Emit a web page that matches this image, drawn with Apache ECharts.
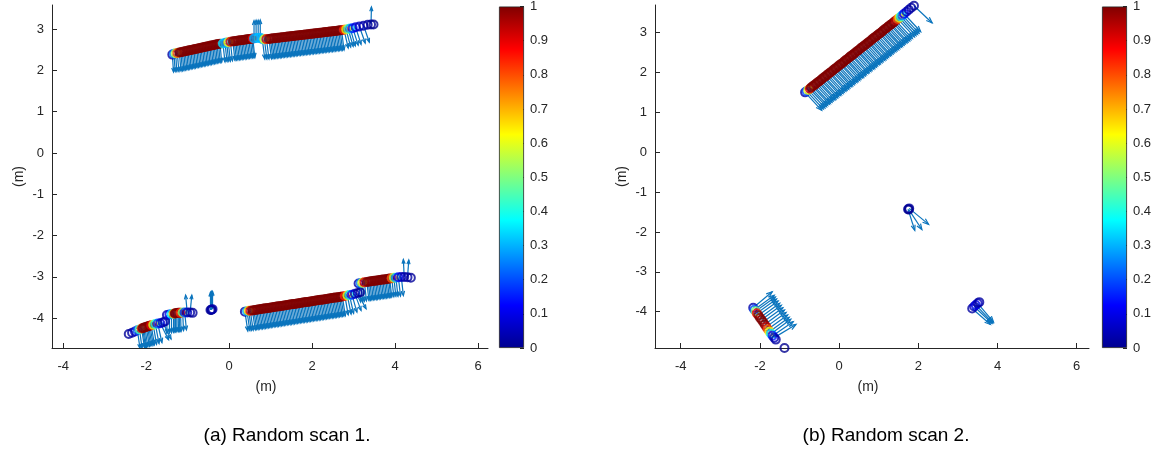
<!DOCTYPE html>
<html>
<head>
<meta charset="utf-8">
<script src="https://cdn.jsdelivr.net/npm/echarts@6/dist/echarts.min.js"></script>
<style>
  html, body { margin: 0; padding: 0; background: #ffffff; }
  #chart { width: 1158px; height: 450px; }
</style>
</head>
<body>
<div id="chart"></div>
<script>
// Each row: [x (m), y (m), weight 0..1, normal dx (m), normal dy (m)]
// A zero normal means the point carries no arrow.

// ---- Random scan 1 ----
const scanA_upperWall = [
  [-1.37, 2.38, 0.02, 0.03, -0.42], [-1.33, 2.40, 0.25, 0.03, -0.43], [-1.29, 2.41, 0.55, 0.03, -0.44],
  [-1.25, 2.42, 0.80, 0.04, -0.45],
  [-1.20, 2.430, 1, 0.04, -0.45], [-1.165, 2.438, 1, 0.04, -0.45], [-1.13, 2.445, 1, 0.04, -0.45],
  [-1.095, 2.453, 1, 0.04, -0.45], [-1.06, 2.461, 1, 0.04, -0.45], [-1.025, 2.469, 1, 0.04, -0.45],
  [-0.99, 2.476, 1, 0.04, -0.45], [-0.955, 2.484, 1, 0.04, -0.45], [-0.92, 2.492, 1, 0.04, -0.45],
  [-0.885, 2.499, 1, 0.04, -0.45], [-0.85, 2.507, 1, 0.04, -0.45], [-0.815, 2.515, 1, 0.04, -0.45],
  [-0.78, 2.522, 1, 0.04, -0.45], [-0.745, 2.530, 1, 0.04, -0.45], [-0.71, 2.538, 1, 0.04, -0.45],
  [-0.675, 2.546, 1, 0.04, -0.45], [-0.64, 2.553, 1, 0.04, -0.45], [-0.605, 2.561, 1, 0.04, -0.45],
  [-0.57, 2.569, 1, 0.04, -0.45], [-0.535, 2.576, 1, 0.04, -0.45], [-0.50, 2.584, 1, 0.04, -0.45],
  [-0.465, 2.592, 1, 0.04, -0.45], [-0.43, 2.599, 1, 0.04, -0.45], [-0.395, 2.607, 1, 0.04, -0.45],
  [-0.36, 2.615, 1, 0.04, -0.45], [-0.325, 2.623, 1, 0.04, -0.45], [-0.29, 2.630, 1, 0.04, -0.45],
  [-0.255, 2.638, 1, 0.04, -0.45], [-0.22, 2.645, 1, 0.04, -0.45],
  [-0.15, 2.65, 0.35, 0.05, -0.45], [-0.10, 2.66, 0.30, 0.05, -0.45],
  [-0.06, 2.67, 0.28, 0.05, -0.45], [-0.02, 2.68, 0.60, 0.05, -0.46], [0.03, 2.69, 0.90, 0.05, -0.46],
  [0.09, 2.700, 1, 0.05, -0.46], [0.125, 2.705, 1, 0.05, -0.46], [0.16, 2.710, 1, 0.05, -0.46],
  [0.195, 2.715, 1, 0.05, -0.46], [0.23, 2.720, 1, 0.05, -0.46], [0.265, 2.725, 1, 0.05, -0.46],
  [0.30, 2.730, 1, 0.05, -0.46], [0.335, 2.735, 1, 0.05, -0.46], [0.37, 2.740, 1, 0.05, -0.46],
  [0.405, 2.745, 1, 0.05, -0.46], [0.44, 2.750, 1, 0.05, -0.46], [0.475, 2.755, 1, 0.05, -0.46],
  [0.51, 2.760, 1, 0.05, -0.46], [0.545, 2.765, 1, 0.05, -0.46], [0.57, 2.77, 0.90, 0.05, -0.46],
  [0.60, 2.77, 0.30, 0.00, 0.43], [0.65, 2.78, 0.28, 0.00, 0.43], [0.70, 2.78, 0.32, 0.00, 0.43],
  [0.75, 2.79, 0.30, 0.00, 0.43],
  [0.80, 2.75, 0.30, 0.06, -0.48], [0.85, 2.75, 0.60, 0.06, -0.48], [0.90, 2.755, 0.90, 0.06, -0.48],
  [0.96, 2.760, 1, 0.06, -0.48], [0.995, 2.764, 1, 0.06, -0.48], [1.03, 2.768, 1, 0.06, -0.48],
  [1.065, 2.773, 1, 0.06, -0.48], [1.10, 2.777, 1, 0.06, -0.48], [1.135, 2.781, 1, 0.06, -0.48],
  [1.17, 2.785, 1, 0.06, -0.48], [1.205, 2.789, 1, 0.06, -0.48], [1.24, 2.794, 1, 0.06, -0.48],
  [1.275, 2.798, 1, 0.06, -0.48], [1.31, 2.802, 1, 0.06, -0.48], [1.345, 2.806, 1, 0.06, -0.48],
  [1.38, 2.810, 1, 0.06, -0.48], [1.415, 2.815, 1, 0.06, -0.48], [1.45, 2.819, 1, 0.06, -0.48],
  [1.485, 2.823, 1, 0.06, -0.48], [1.52, 2.827, 1, 0.06, -0.48], [1.555, 2.831, 1, 0.06, -0.48],
  [1.59, 2.836, 1, 0.06, -0.48], [1.625, 2.840, 1, 0.06, -0.48], [1.66, 2.844, 1, 0.06, -0.48],
  [1.695, 2.848, 1, 0.06, -0.48], [1.73, 2.852, 1, 0.06, -0.48], [1.765, 2.857, 1, 0.06, -0.48],
  [1.80, 2.861, 1, 0.06, -0.48], [1.835, 2.865, 1, 0.06, -0.48], [1.87, 2.869, 1, 0.06, -0.48],
  [1.905, 2.873, 1, 0.06, -0.48], [1.94, 2.878, 1, 0.06, -0.48], [1.975, 2.882, 1, 0.06, -0.48],
  [2.01, 2.886, 1, 0.06, -0.48], [2.045, 2.890, 1, 0.06, -0.48], [2.08, 2.894, 1, 0.06, -0.48],
  [2.115, 2.899, 1, 0.06, -0.48], [2.15, 2.903, 1, 0.06, -0.48], [2.185, 2.907, 1, 0.06, -0.48],
  [2.22, 2.911, 1, 0.06, -0.48], [2.255, 2.915, 1, 0.06, -0.48], [2.29, 2.920, 1, 0.06, -0.48],
  [2.325, 2.924, 1, 0.06, -0.48], [2.36, 2.928, 1, 0.06, -0.48], [2.395, 2.932, 1, 0.06, -0.48],
  [2.43, 2.936, 1, 0.06, -0.48], [2.465, 2.941, 1, 0.06, -0.48], [2.50, 2.945, 1, 0.06, -0.48],
  [2.535, 2.949, 1, 0.06, -0.48], [2.57, 2.953, 1, 0.06, -0.48], [2.605, 2.957, 1, 0.06, -0.48],
  [2.64, 2.962, 1, 0.06, -0.48], [2.675, 2.966, 1, 0.06, -0.48], [2.71, 2.970, 1, 0.06, -0.48],
  [2.77, 2.98, 0.85, 0.10, -0.44], [2.82, 2.99, 0.65, 0.11, -0.43], [2.87, 3.00, 0.45, 0.12, -0.42],
  [2.92, 3.01, 0.30, 0.12, -0.42], [2.98, 3.02, 0.15, 0.13, -0.41], [3.05, 3.04, 0.08, 0.13, -0.41],
  [3.14, 3.06, 0.05, 0.14, -0.40], [3.24, 3.08, 0.03, 0.14, -0.40], [3.34, 3.10, 0.02, 0, 0],
  [3.42, 3.11, 0.01, 0.01, 0.42], [3.48, 3.11, 0.00, 0, 0]
];

const scanA_lowerLeft = [
  [-2.42, -4.38, 0.01, 0, 0], [-2.34, -4.35, 0.02, 0, 0], [-2.27, -4.32, 0.05, 0, 0],
  [-2.21, -4.29, 0.20, 0.06, -0.44], [-2.16, -4.27, 0.45, 0.06, -0.45], [-2.11, -4.25, 0.80, 0.07, -0.46],
  [-2.085, -4.24, 1, 0.07, -0.47], [-2.06, -4.23, 1, 0.07, -0.47], [-2.03, -4.22, 1, 0.07, -0.47],
  [-2.00, -4.21, 1, 0.08, -0.47], [-1.97, -4.20, 1, 0.08, -0.47], [-1.94, -4.19, 1, 0.08, -0.47],
  [-1.91, -4.18, 1, 0.08, -0.47], [-1.88, -4.17, 0.90, 0.08, -0.47], [-1.83, -4.16, 0.60, 0.08, -0.47],
  [-1.78, -4.14, 0.40, 0.09, -0.47], [-1.72, -4.13, 0.20, 0.10, -0.46], [-1.66, -4.12, 0.08, 0.20, -0.40],
  [-1.60, -4.10, 0.04, 0.20, -0.40], [-1.55, -4.08, 0.02, 0, 0],
  [-1.50, -3.92, 0.03, 0.00, -0.45], [-1.44, -3.91, 0.10, 0.00, -0.45], [-1.39, -3.90, 0.35, 0.00, -0.45],
  [-1.34, -3.89, 0.70, 0.00, -0.45], [-1.31, -3.885, 1, 0.00, -0.45], [-1.29, -3.88, 1, 0.00, -0.45],
  [-1.26, -3.875, 1, 0.00, -0.45], [-1.23, -3.87, 1, 0.01, -0.45], [-1.20, -3.87, 1, 0.01, -0.45],
  [-1.17, -3.87, 0.85, 0.01, -0.45], [-1.12, -3.86, 0.50, 0.02, -0.44], [-1.07, -3.86, 0.20, 0.04, -0.42],
  [-1.01, -3.86, 0.05, -0.04, 0.42], [-0.94, -3.86, 0.02, 0.04, 0.42], [-0.88, -3.87, 0.01, 0, 0]
];

const scanA_post = [
  [-0.45, -3.80, 0.02, 0.00, 0.43], [-0.43, -3.80, 0.00, 0.00, 0.43],
  [-0.42, -3.79, 0.01, 0.00, 0.44], [-0.40, -3.78, 0.03, 0.00, 0.43]
];

const scanA_lowerWall = [
  [0.38, -3.84, 0.02, 0.07, -0.47], [0.43, -3.83, 0.30, 0.07, -0.47], [0.47, -3.82, 0.65, 0.07, -0.47],
  [0.51, -3.82, 0.90, 0.07, -0.47],
  [0.56, -3.810, 1, 0.07, -0.47], [0.595, -3.805, 1, 0.07, -0.47], [0.63, -3.799, 1, 0.07, -0.47],
  [0.665, -3.794, 1, 0.07, -0.47], [0.70, -3.788, 1, 0.07, -0.47], [0.735, -3.783, 1, 0.07, -0.47],
  [0.77, -3.777, 1, 0.07, -0.47], [0.805, -3.772, 1, 0.07, -0.47], [0.84, -3.767, 1, 0.07, -0.47],
  [0.875, -3.761, 1, 0.07, -0.47], [0.91, -3.756, 1, 0.07, -0.47], [0.945, -3.750, 1, 0.07, -0.47],
  [0.98, -3.745, 1, 0.07, -0.47], [1.015, -3.739, 1, 0.07, -0.47], [1.05, -3.734, 1, 0.07, -0.47],
  [1.085, -3.729, 1, 0.07, -0.47], [1.12, -3.723, 1, 0.07, -0.47], [1.155, -3.718, 1, 0.07, -0.47],
  [1.19, -3.712, 1, 0.07, -0.47], [1.225, -3.707, 1, 0.07, -0.47], [1.26, -3.702, 1, 0.07, -0.47],
  [1.295, -3.696, 1, 0.07, -0.47], [1.33, -3.691, 1, 0.07, -0.47], [1.365, -3.685, 1, 0.07, -0.47],
  [1.40, -3.680, 1, 0.07, -0.47], [1.435, -3.674, 1, 0.07, -0.47], [1.47, -3.669, 1, 0.07, -0.47],
  [1.505, -3.664, 1, 0.07, -0.47], [1.54, -3.658, 1, 0.07, -0.47], [1.575, -3.653, 1, 0.07, -0.47],
  [1.61, -3.647, 1, 0.07, -0.47], [1.645, -3.642, 1, 0.07, -0.47], [1.68, -3.636, 1, 0.07, -0.47],
  [1.715, -3.631, 1, 0.07, -0.47], [1.75, -3.626, 1, 0.07, -0.47], [1.785, -3.620, 1, 0.07, -0.47],
  [1.82, -3.615, 1, 0.07, -0.47], [1.855, -3.609, 1, 0.07, -0.47], [1.89, -3.604, 1, 0.07, -0.47],
  [1.925, -3.598, 1, 0.07, -0.47], [1.96, -3.593, 1, 0.07, -0.47], [1.995, -3.588, 1, 0.07, -0.47],
  [2.03, -3.582, 1, 0.07, -0.47], [2.065, -3.577, 1, 0.07, -0.47], [2.10, -3.571, 1, 0.07, -0.47],
  [2.135, -3.566, 1, 0.07, -0.47], [2.17, -3.560, 1, 0.07, -0.47], [2.205, -3.555, 1, 0.07, -0.47],
  [2.24, -3.550, 1, 0.07, -0.47], [2.275, -3.544, 1, 0.07, -0.47], [2.31, -3.539, 1, 0.07, -0.47],
  [2.345, -3.533, 1, 0.07, -0.47], [2.38, -3.528, 1, 0.07, -0.47], [2.415, -3.523, 1, 0.07, -0.47],
  [2.45, -3.517, 1, 0.07, -0.47], [2.485, -3.512, 1, 0.07, -0.47], [2.52, -3.506, 1, 0.07, -0.47],
  [2.555, -3.501, 1, 0.07, -0.47], [2.59, -3.495, 1, 0.07, -0.47], [2.625, -3.490, 1, 0.07, -0.47],
  [2.66, -3.485, 1, 0.07, -0.47], [2.695, -3.479, 1, 0.07, -0.47], [2.73, -3.474, 1, 0.07, -0.47],
  [2.79, -3.46, 0.85, 0.08, -0.46], [2.85, -3.45, 0.60, 0.09, -0.45], [2.90, -3.44, 0.35, 0.10, -0.44],
  [2.96, -3.43, 0.15, 0.12, -0.42], [3.03, -3.41, 0.05, 0.15, -0.40], [3.10, -3.39, 0.02, 0.20, -0.38],
  [3.16, -3.37, 0.00, 0, 0]
];

const scanA_lowerRight = [
  [3.12, -3.16, 0.03, 0.05, -0.45], [3.17, -3.15, 0.25, 0.05, -0.45], [3.21, -3.14, 0.60, 0.05, -0.45],
  [3.26, -3.13, 0.90, 0.05, -0.45],
  [3.32, -3.120, 1, 0.05, -0.45], [3.355, -3.115, 1, 0.05, -0.45], [3.39, -3.110, 1, 0.05, -0.45],
  [3.425, -3.105, 1, 0.05, -0.45], [3.46, -3.100, 1, 0.05, -0.45], [3.495, -3.095, 1, 0.05, -0.45],
  [3.53, -3.090, 1, 0.05, -0.45], [3.565, -3.085, 1, 0.05, -0.45], [3.60, -3.080, 1, 0.05, -0.45],
  [3.635, -3.075, 1, 0.05, -0.45], [3.67, -3.070, 1, 0.05, -0.45], [3.705, -3.065, 1, 0.05, -0.45],
  [3.74, -3.060, 1, 0.05, -0.45], [3.775, -3.055, 1, 0.05, -0.45], [3.81, -3.050, 1, 0.05, -0.45],
  [3.845, -3.045, 1, 0.05, -0.45], [3.87, -3.040, 1, 0.05, -0.45],
  [3.92, -3.03, 0.80, 0.05, -0.45], [3.97, -3.02, 0.55, 0.05, -0.45],
  [4.02, -3.02, 0.30, 0.05, -0.45], [4.08, -3.01, 0.12, 0.05, -0.45], [4.15, -3.00, 0.05, 0.05, -0.45],
  [4.22, -3.00, 0.03, -0.02, 0.42], [4.30, -3.01, 0.02, 0.03, 0.42], [4.38, -3.02, 0.01, 0, 0]
];

// ---- Random scan 2 ----
const scanB_wall = [
  [-0.86, 1.50, 0.02, 0.42, -0.45], [-0.82, 1.53, 0.20, 0.42, -0.45], [-0.78, 1.56, 0.60, 0.42, -0.45],
  [-0.74, 1.59, 0.90, 0.42, -0.45], [-0.71, 1.62, 1, 0.42, -0.45], [-0.67, 1.65, 1, 0.42, -0.45],
  [-0.64, 1.67, 1, 0.42, -0.45], [-0.60, 1.70, 1, 0.42, -0.45], [-0.57, 1.73, 1, 0.42, -0.45],
  [-0.53, 1.76, 1, 0.42, -0.45], [-0.50, 1.78, 1, 0.42, -0.45], [-0.46, 1.81, 1, 0.42, -0.45],
  [-0.43, 1.84, 1, 0.42, -0.45], [-0.39, 1.87, 1, 0.42, -0.45], [-0.36, 1.89, 1, 0.42, -0.45],
  [-0.32, 1.92, 1, 0.42, -0.45], [-0.29, 1.95, 1, 0.42, -0.45], [-0.25, 1.98, 1, 0.42, -0.45],
  [-0.22, 2.00, 1, 0.42, -0.45], [-0.18, 2.03, 1, 0.42, -0.45], [-0.15, 2.06, 1, 0.42, -0.45],
  [-0.11, 2.09, 1, 0.42, -0.45], [-0.08, 2.11, 1, 0.42, -0.45], [-0.04, 2.14, 1, 0.42, -0.45],
  [-0.01, 2.17, 1, 0.42, -0.45], [0.03, 2.20, 1, 0.42, -0.45], [0.06, 2.22, 1, 0.42, -0.45],
  [0.10, 2.25, 1, 0.42, -0.45], [0.13, 2.28, 1, 0.42, -0.45], [0.17, 2.31, 1, 0.42, -0.45],
  [0.20, 2.33, 1, 0.42, -0.45], [0.24, 2.36, 1, 0.42, -0.45], [0.27, 2.39, 1, 0.42, -0.45],
  [0.31, 2.42, 1, 0.42, -0.45], [0.34, 2.44, 1, 0.42, -0.45], [0.38, 2.47, 1, 0.42, -0.45],
  [0.41, 2.50, 1, 0.42, -0.45], [0.45, 2.53, 1, 0.42, -0.45], [0.48, 2.55, 1, 0.42, -0.45],
  [0.52, 2.58, 1, 0.42, -0.45], [0.55, 2.61, 1, 0.42, -0.45], [0.59, 2.64, 1, 0.42, -0.45],
  [0.62, 2.66, 1, 0.42, -0.45], [0.66, 2.69, 1, 0.42, -0.45], [0.69, 2.72, 1, 0.42, -0.45],
  [0.73, 2.75, 1, 0.42, -0.45], [0.76, 2.77, 1, 0.42, -0.45], [0.80, 2.80, 1, 0.42, -0.45],
  [0.83, 2.83, 1, 0.42, -0.45], [0.87, 2.86, 1, 0.42, -0.45], [0.90, 2.88, 1, 0.42, -0.45],
  [0.94, 2.91, 1, 0.42, -0.45], [0.97, 2.94, 1, 0.42, -0.45], [1.01, 2.97, 1, 0.42, -0.45],
  [1.04, 2.99, 1, 0.42, -0.45], [1.08, 3.02, 1, 0.42, -0.45], [1.11, 3.05, 1, 0.42, -0.45],
  [1.15, 3.08, 1, 0.42, -0.45], [1.18, 3.10, 1, 0.42, -0.45], [1.22, 3.13, 1, 0.42, -0.45],
  [1.25, 3.16, 1, 0.42, -0.45], [1.29, 3.19, 1, 0.42, -0.45], [1.32, 3.21, 1, 0.42, -0.45],
  [1.36, 3.24, 1, 0.42, -0.45], [1.39, 3.27, 1, 0.42, -0.45], [1.43, 3.30, 0.95, 0.42, -0.45],
  [1.48, 3.34, 0.80, 0.42, -0.45], [1.52, 3.37, 0.60, 0.42, -0.45], [1.56, 3.40, 0.40, 0.42, -0.45],
  [1.60, 3.43, 0.25, 0.42, -0.45], [1.64, 3.47, 0.12, 0.42, -0.45], [1.70, 3.52, 0.05, 0, 0],
  [1.76, 3.57, 0.03, 0, 0], [1.82, 3.62, 0.02, 0, 0], [1.89, 3.67, 0.01, 0.46, -0.43]
];

const scanB_post = [
  [1.74, -1.43, 0.01, 0.17, -0.53], [1.77, -1.41, 0.02, 0.49, -0.40], [1.76, -1.44, 0.00, 0.33, -0.50]
];

const scanB_pillar = [
  [3.36, -3.92, 0.02, 0.46, -0.40], [3.41, -3.87, 0.05, 0.45, -0.42], [3.45, -3.83, 0.10, 0.43, -0.45],
  [3.50, -3.79, 0.05, 0.40, -0.47], [3.54, -3.76, 0.02, 0, 0]
];

const scanB_corner = [
  [-2.17, -3.90, 0.03, 0.48, 0.40], [-2.14, -3.95, 0.20, 0.50, 0.36], [-2.11, -3.99, 0.50, 0.50, 0.36],
  [-2.08, -4.04, 0.85, 0.50, 0.36], [-2.04, -4.09, 1, 0.50, 0.36], [-2.00, -4.15, 1, 0.50, 0.36],
  [-1.96, -4.20, 1, 0.50, 0.36], [-1.92, -4.26, 1, 0.50, 0.36], [-1.88, -4.32, 1, 0.50, 0.36],
  [-1.84, -4.38, 0.95, 0.50, 0.36], [-1.80, -4.44, 0.80, 0.50, 0.36], [-1.76, -4.50, 0.60, 0.50, 0.36],
  [-1.72, -4.55, 0.35, 0.50, 0.36], [-1.68, -4.60, 0.15, 0.52, 0.35], [-1.64, -4.65, 0.05, 0.55, 0.33],
  [-1.60, -4.70, 0.02, 0, 0], [-1.38, -4.91, 0.00, 0, 0]
];

// Axis ticks
const xTicks = [-4, -2, 0, 2, 4, 6];
const yTicks = [-4, -3, -2, -1, 0, 1, 2, 3];
const cbTicks = [0, 0.1, 0.2, 0.3, 0.4, 0.5, 0.6, 0.7, 0.8, 0.9, 1];

// Jet colour map stops: [position, [r, g, b]]
const jetStops = [
  [0, [0, 0, 143]], [0.125, [0, 0, 255]], [0.375, [0, 255, 255]],
  [0.625, [255, 255, 0]], [0.875, [255, 0, 0]], [1, [128, 0, 0]]
];

const captions = ['(a) Random scan 1.', '(b) Random scan 2.'];

const ARROW_COLOR = '#0a74bd';
const INK = '#262626';
const FONT = 'Liberation Sans, Arial, Helvetica, sans-serif';

function jet(t) {
  t = Math.max(0, Math.min(1, t));
  for (let i = 1; i < jetStops.length; i++) {
    const [p1, c1] = jetStops[i];
    const [p0, c0] = jetStops[i - 1];
    if (t <= p1) {
      const f = (t - p0) / (p1 - p0);
      const c = c0.map((v, k) => Math.round(v + (c1[k] - v) * f));
      return 'rgb(' + c.join(',') + ')';
    }
  }
  return 'rgb(128,0,0)';
}

function renderArrow(params, api) {
  const u = api.value(2), v = api.value(3);
  if (u === 0 && v === 0) return null;
  const x = api.value(0), y = api.value(1);
  const p0 = api.coord([x, y]);
  const p1 = api.coord([x + u, y + v]);
  const dx = p1[0] - p0[0], dy = p1[1] - p0[1];
  const back = 0.24, wing = 0.09;
  const h1 = [p1[0] - back * dx - wing * dy, p1[1] - back * dy + wing * dx];
  const h2 = [p1[0] - back * dx + wing * dy, p1[1] - back * dy - wing * dx];
  const style = { stroke: ARROW_COLOR, lineWidth: 1.2, fill: null };
  return {
    type: 'group',
    children: [
      { type: 'polyline', shape: { points: [p0, p1] }, style: style },
      { type: 'polyline', shape: { points: [h1, p1, h2] }, style: style }
    ]
  };
}

function arrowSeries(rows, idx) {
  return {
    type: 'custom', xAxisIndex: idx, yAxisIndex: idx, silent: true, z: 2,
    renderItem: renderArrow, clip: true,
    encode: { x: 0, y: 1 },
    data: rows.map(r => [r[0], r[1], r[3], r[4]])
  };
}

function ringSeries(rows, idx) {
  return {
    type: 'scatter', xAxisIndex: idx, yAxisIndex: idx, silent: true, z: 3,
    symbol: 'circle', symbolSize: 8,
    data: rows.map(r => ({
      value: [r[0], r[1]],
      itemStyle: { color: 'rgba(0,0,0,0)', borderColor: jet(r[2]), borderWidth: 2 }
    }))
  };
}

function plotX(idx, min, max) {
  return {
    type: 'value', gridIndex: idx, min: min, max: max,
    name: '(m)', nameLocation: 'middle', nameGap: 32,
    nameTextStyle: { color: INK, fontSize: 14, fontFamily: FONT, padding: [0, 8, 0, 0] },
    axisLine: { onZero: false, lineStyle: { color: INK, width: 1 } },
    axisTick: { inside: true, length: 5, customValues: xTicks, lineStyle: { color: INK } },
    axisLabel: { customValues: xTicks, color: INK, fontSize: 13, fontFamily: FONT, margin: 12 },
    splitLine: { show: false }
  };
}

function plotY(idx, min, max) {
  return {
    type: 'value', gridIndex: idx, min: min, max: max,
    name: '(m)', nameLocation: 'middle', nameGap: 26, nameRotate: 90,
    nameTextStyle: { color: INK, fontSize: 14, fontFamily: FONT },
    axisLine: { show: true, onZero: false, lineStyle: { color: INK, width: 1 } },
    axisTick: { show: true, inside: true, length: 5, customValues: yTicks, lineStyle: { color: INK } },
    axisLabel: { customValues: yTicks, color: INK, fontSize: 13, fontFamily: FONT, margin: 8 },
    splitLine: { show: false }
  };
}

function barGradient() {
  return new echarts.graphic.LinearGradient(0, 1, 0, 0,
    jetStops.map(s => ({ offset: s[0], color: 'rgb(' + s[1].join(',') + ')' })));
}

function colorbarX(idx) {
  return { type: 'category', gridIndex: idx, data: ['w'], show: false };
}
function colorbarY(idx) {
  return {
    type: 'value', gridIndex: idx, min: 0, max: 1, position: 'right',
    axisLine: { show: false },
    axisTick: { show: true, inside: true, length: 4, customValues: cbTicks, lineStyle: { color: INK } },
    axisLabel: { customValues: cbTicks, color: INK, fontSize: 13, fontFamily: FONT, margin: 6 },
    splitLine: { show: false }
  };
}
function colorbarSeries(idx) {
  return {
    type: 'bar', xAxisIndex: idx, yAxisIndex: idx, silent: true, barWidth: '100%',
    data: [1],
    itemStyle: { color: barGradient(), borderColor: INK, borderWidth: 0.8 }
  };
}

const chart = echarts.init(document.getElementById('chart'), null, { renderer: 'canvas' });

const allA = [scanA_upperWall, scanA_lowerLeft, scanA_post, scanA_lowerWall, scanA_lowerRight];
const allB = [scanB_wall, scanB_post, scanB_pillar, scanB_corner];

const series = [];
allA.forEach(rows => series.push(arrowSeries(rows, 0)));
allB.forEach(rows => series.push(arrowSeries(rows, 1)));
allA.forEach(rows => series.push(ringSeries(rows, 0)));
allB.forEach(rows => series.push(ringSeries(rows, 1)));
series.push(colorbarSeries(2), colorbarSeries(3));

chart.setOption({
  animation: false,
  backgroundColor: '#ffffff',
  grid: [
    { left: 52, top: 5, width: 436, height: 343 },
    { left: 655, top: 5, width: 434, height: 343 },
    { left: 499, top: 5, width: 25, height: 343 },
    { left: 1102, top: 5, width: 25, height: 343 }
  ],
  xAxis: [plotX(0, -4.27, 6.24), plotX(1, -4.65, 6.31), colorbarX(2), colorbarX(3)],
  yAxis: [plotY(0, -4.72, 3.58), plotY(1, -4.91, 3.69), colorbarY(2), colorbarY(3)],
  series: series,
  graphic: [
    { type: 'text', x: 287, y: 436, silent: true,
      style: { text: captions[0], fill: '#000', fontSize: 19, fontFamily: FONT,
               align: 'center', verticalAlign: 'middle', textAlign: 'center', textVerticalAlign: 'middle' } },
    { type: 'text', x: 886, y: 436, silent: true,
      style: { text: captions[1], fill: '#000', fontSize: 19, fontFamily: FONT,
               align: 'center', verticalAlign: 'middle', textAlign: 'center', textVerticalAlign: 'middle' } }
  ]
});
</script>
</body>
</html>
